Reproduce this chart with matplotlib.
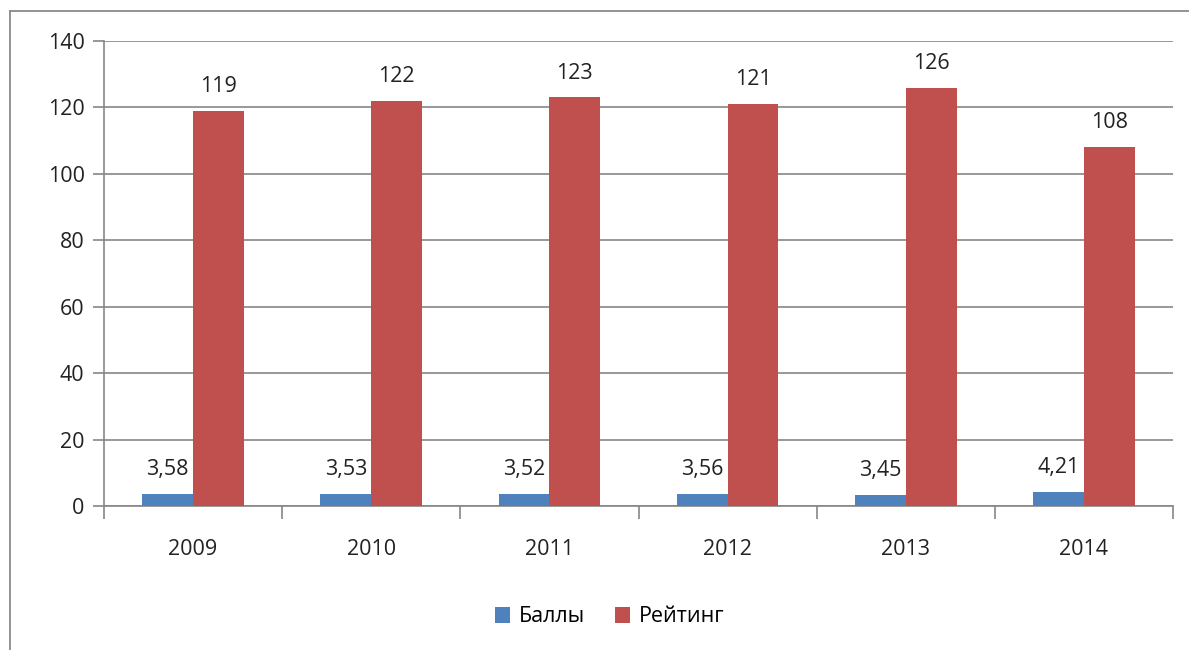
from matplotlib import pyplot as plt
from matplotlib.lines import Line2D
import numpy as np

plt.rcParams['font.family'] = ['Open Sans', 'DejaVu Sans']

# data
years = ['2009', '2010', '2011', '2012', '2013', '2014']
bally = [3.58, 3.53, 3.52, 3.56, 3.45, 4.21]
reiting = [119, 122, 123, 121, 126, 108]
series_names = ['Баллы', 'Рейтинг']

blue = '#4F81BD'
red = '#C0504D'
grid_col = '#868686'
fs = 15.5

W, H = 1189, 650
fig = plt.figure(figsize=(W / 100, H / 100), dpi=100)
ax = fig.add_axes([104 / W, 1 - 506 / H, (1173 - 104) / W, (506 - 41) / H])

x = np.arange(len(years))
bw = 0.285
b1 = ax.bar(x - bw / 2, bally, bw, color=blue, label=series_names[0], zorder=3)
b2 = ax.bar(x + bw / 2, reiting, bw, color=red, label=series_names[1], zorder=3)

for bars, vals in ((b1, bally), (b2, reiting)):
    for b, v in zip(bars, vals):
        txt = ('%.2f' % v).replace('.', ',') if isinstance(v, float) else str(v)
        ax.annotate(txt, (b.get_x() + b.get_width() / 2, b.get_height()),
                    xytext=(0, 10), textcoords='offset points',
                    ha='center', va='bottom', fontsize=fs, color='#222222')

ax.set_xlim(-0.5, len(years) - 0.5)
ax.set_ylim(0, 140)
ax.set_yticks(range(0, 141, 20))
ax.yaxis.grid(True, color=grid_col, linewidth=1.2, zorder=0)
ax.set_axisbelow(True)

ax.set_xticks(x)
ax.set_xticklabels(years)
ax.set_xticks(np.arange(-0.5, len(years)), minor=True)
ax.tick_params(axis='x', which='major', length=0, pad=24, labelsize=fs, labelcolor='#222222')
ax.tick_params(axis='x', which='minor', length=9, color=grid_col, width=1.2)
ax.tick_params(axis='y', length=8, color=grid_col, width=1.2, labelsize=fs,
               labelcolor='#222222', pad=6)

for s in ('top', 'right'):
    ax.spines[s].set_visible(False)
for s in ('left', 'bottom'):
    ax.spines[s].set_color(grid_col)
    ax.spines[s].set_linewidth(1.2)

fig.legend(loc='center', bbox_to_anchor=(610 / W, 1 - 617 / H), ncol=2, frameon=False,
           fontsize=fs, handlelength=0.7, handleheight=0.7, handletextpad=0.4,
           columnspacing=1.4)

# outer chart frame (only left and top visible in the crop)
fig.add_artist(Line2D([10 / W, 10 / W], [0, 1 - 11 / H], color='#8a8a8a', linewidth=1.3,
                      transform=fig.transFigure))
fig.add_artist(Line2D([10 / W, 1], [1 - 11 / H, 1 - 11 / H], color='#8a8a8a', linewidth=1.3,
                      transform=fig.transFigure))

fig.savefig('out.png', dpi=100)
